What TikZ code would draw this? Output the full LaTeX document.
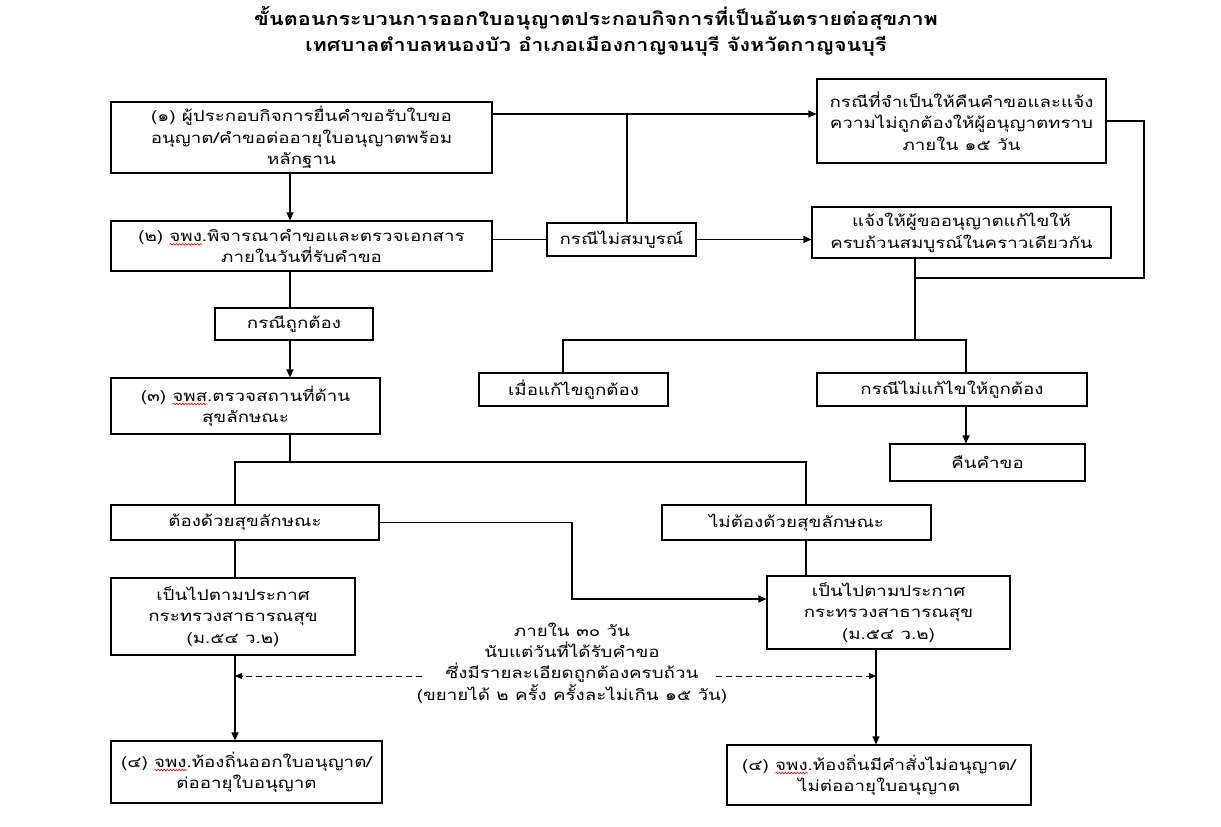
\documentclass[tikz,border=0pt]{standalone}
\usepackage{fontspec}
\usetikzlibrary{arrows.meta,calc,decorations.pathmorphing}
\newfontfamily\thai[Script=Thai,FakeStretch=1.25]{Loma}
\newfontfamily\thaititle[Script=Thai,FakeStretch=1.2]{Loma}
\newsavebox\spellbox
\newlength\spellwd
\newcommand\spellmark[1]{\sbox\spellbox{#1}\setlength\spellwd{\wd\spellbox}%
  \rlap{\tikz[baseline=0pt]\draw[red, line width=0.6pt, decorate, decoration={snake, segment length=3pt, amplitude=0.8pt}] (0pt,-3pt) -- (\spellwd,-3pt);}%
  \usebox\spellbox}
\newcommand\mybox[6]{\node[box, minimum width={(#4)-(#2)}, minimum height={(#5)-(#3)}] (#1) at ({((#2)+(#4))/2},{((#3)+(#5))/2}) {#6};}
\begin{document}
\begin{tikzpicture}[x=1pt,y=-1pt,
  box/.style={draw, line width=1.1pt, align=center, inner sep=0pt, font=\thai\fontsize{15}{21.5}\selectfont},
  ln/.style={line width=1.1pt},
  arr/.style={line width=1.1pt, -{Triangle[length=8pt,width=7pt]}},
  darr/.style={line width=0.9pt, dash pattern=on 6pt off 4pt, -{Triangle[length=7pt,width=6pt]}},
  lbl/.style={align=center, inner sep=0pt, font=\thai\fontsize{15}{21.3}\selectfont}]
\useasboundingbox (0,0) rectangle (1221,827);
\node[align=center, inner sep=0pt, font=\thaititle\bfseries\fontsize{18}{26}\selectfont] (title) at (596,31)
  {ขั้นตอนกระบวนการออกใบอนุญาตประกอบกิจการที่เป็นอันตรายต่อสุขภาพ\\เทศบาลตำบลหนองบัว อำเภอเมืองกาญจนบุรี จังหวัดกาญจนบุรี};
\mybox{b1}{111}{102}{492}{173}{(๑) ผู้ประกอบกิจการยื่นคำขอรับใบขอ\\อนุญาต/คำขอต่ออายุใบอนุญาตพร้อม\\หลักฐาน}
\mybox{b2}{111}{221}{492}{271}{(๒) \spellmark{จพง}.พิจารณาคำขอและตรวจเอกสาร\\ภายในวันที่รับคำขอ}
\mybox{kmsb}{547}{223}{696}{256}{กรณีไม่สมบูรณ์}
\mybox{r1}{817}{79}{1106}{163}{กรณีที่จำเป็นให้คืนคำขอและแจ้ง\\ความไม่ถูกต้องให้ผู้อนุญาตทราบ\\ภายใน ๑๕ วัน}
\mybox{r2}{812}{207}{1111}{258}{แจ้งให้ผู้ขออนุญาตแก้ไขให้\\ครบถ้วนสมบูรณ์ในคราวเดียวกัน}
\mybox{kt}{215}{308}{373}{340}{กรณีถูกต้อง}
\mybox{b3}{111}{378}{380}{434}{(๓) \spellmark{จพส}.ตรวจสถานที่ด้าน\\สุขลักษณะ}
\mybox{ok}{479}{373}{668}{406}{เมื่อแก้ไขถูกต้อง}
\mybox{nok}{817}{373}{1087}{406}{กรณีไม่แก้ไขให้ถูกต้อง}
\mybox{ret}{890}{444}{1085}{481}{คืนคำขอ}
\mybox{h1}{111}{505}{379}{540}{ต้องด้วยสุขลักษณะ}
\mybox{h2}{662}{505}{931}{540}{ไม่ต้องด้วยสุขลักษณะ}
\mybox{p1}{111}{578}{355}{655}{เป็นไปตามประกาศ\\กระทรวงสาธารณสุข\\(ม.๕๔ ว.๒)}
\mybox{p2}{767}{576}{1010}{649}{เป็นไปตามประกาศ\\กระทรวงสาธารณสุข\\(ม.๕๔ ว.๒)}
\mybox{f1}{111}{741}{382}{803}{(๔) \spellmark{จพง}.ท้องถิ่นออกใบอนุญาต/\\ต่ออายุใบอนุญาต}
\mybox{f2}{727}{745}{1031}{805}{(๔) \spellmark{จพง}.ท้องถิ่นมีคำสั่งไม่อนุญาต/\\ไม่ต่ออายุใบอนุญาต}
\node[lbl] (mid) at (572,663) {ภายใน ๓๐ วัน\\นับแต่วันที่ได้รับคำขอ\\ซึ่งมีรายละเอียดถูกต้องครบถ้วน\\(ขยายได้ ๒ ครั้ง ครั้งละไม่เกิน ๑๕ วัน)};
% coordinates
\coordinate (sp) at (290,0);
\coordinate (t1) at (627,114);
\coordinate (c1) at (1144,278);
\coordinate (c2) at (915,278);
\coordinate (c3) at (915,340);
\coordinate (okx) at (563,340);
\coordinate (nokx) at (966,340);
\coordinate (j3) at (290,462);
\coordinate (xL) at (235,462);
\coordinate (xR) at (806,462);
\coordinate (m1) at (572,599);
\coordinate (xR2) at (876,0);
\coordinate (dl) at (422,676);
\coordinate (dr) at (716,676);
% connectors
\draw[arr] (b1.south -| sp) -- (b2.north -| sp);
\draw[ln] (b2.south -| sp) -- (kt.north -| sp);
\draw[arr] (kt.south -| sp) -- (b3.north -| sp);
\draw[ln] (b3.south -| sp) -- (j3);
\draw[ln] (h1.north -| xL) -- (xL) -- (xR) -- (h2.north -| xR);
\draw[arr] (b1.east |- t1) -- (r1.west |- t1);
\draw[ln] (kmsb.north -| t1) -- (t1);
\draw[ln] (b2.east |- kmsb.west) -- (kmsb.west);
\draw[arr] (kmsb.east) -- (kmsb.east -| r2.west);
\draw[ln] (r1.east) -| (c1) -- (c2);
\draw[ln] (r2.south -| c3) -- (c3);
\draw[ln] (ok.north -| okx) -- (okx) -- (nokx) -- (nok.north -| nokx);
\draw[arr] (nok.south -| nokx) -- (ret.north -| nokx);
\draw[arr] (h1.east) -| (m1) -- (p2.west |- m1);
\draw[ln] (h1.south -| xL) -- (p1.north -| xL);
\draw[ln] (h2.south -| xR) -- (p2.north -| xR);
\draw[arr] (p1.south -| xL) -- (f1.north -| xL);
\draw[arr] (p2.south -| xR2) -- (f2.north -| xR2);
\draw[darr] (dl) -- (dl -| xL);
\draw[darr] (dr) -- (dr -| xR2);
\end{tikzpicture}
\end{document}
